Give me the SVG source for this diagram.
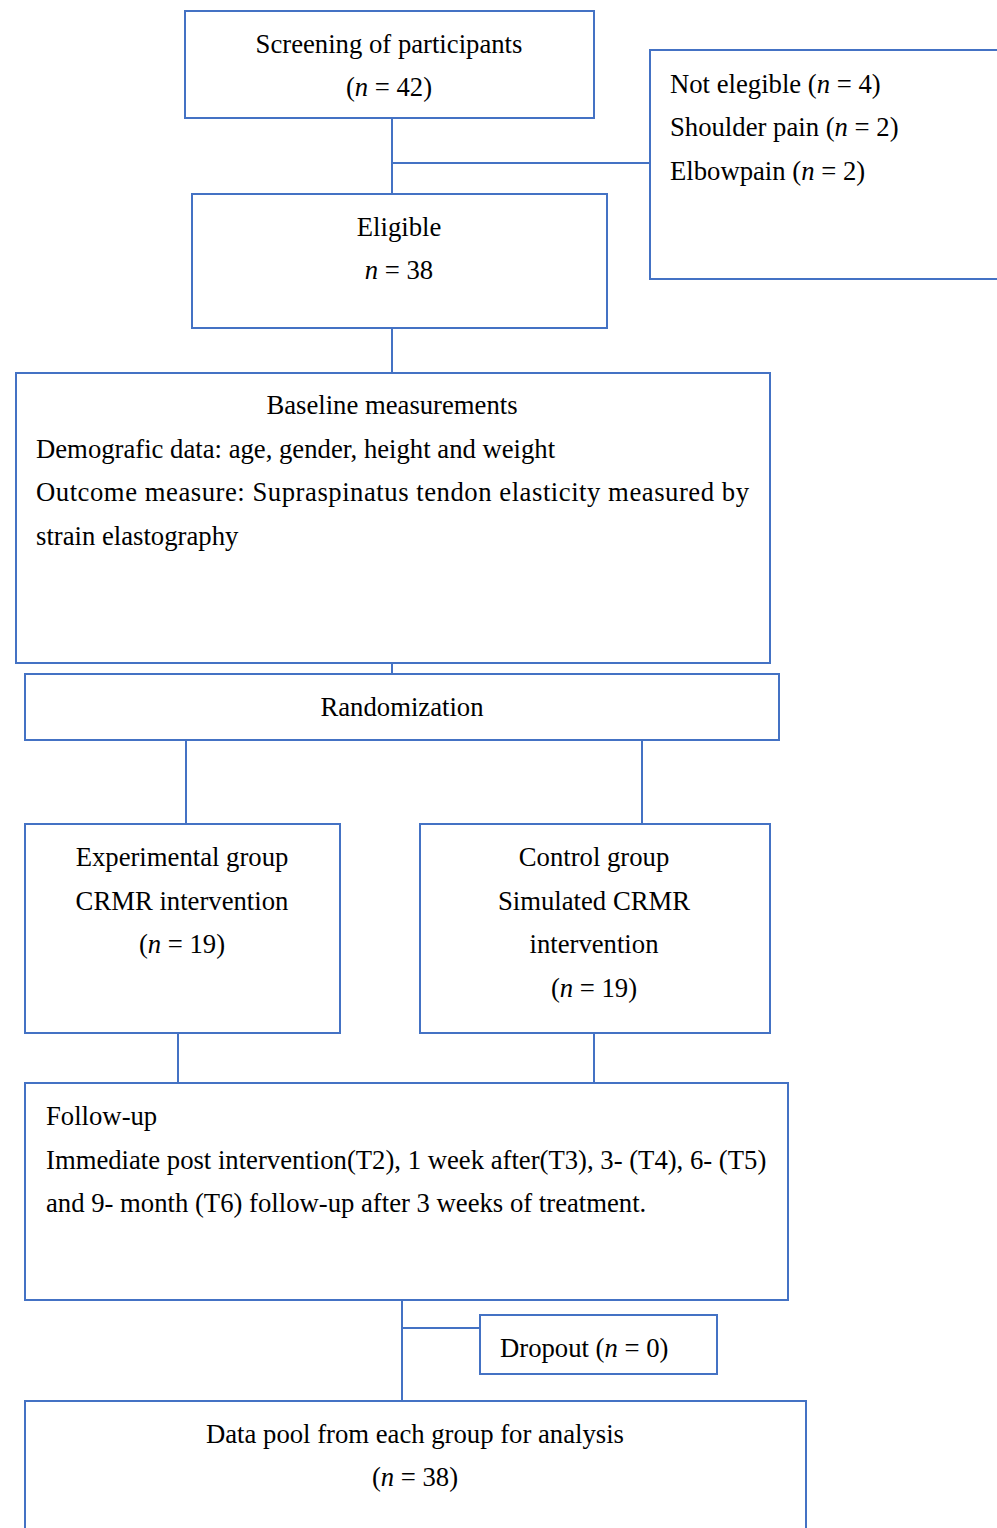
<svg xmlns="http://www.w3.org/2000/svg" width="997" height="1528" viewBox="0 0 997 1528">
<style>
.box{fill:#ffffff;stroke:#4472C4;stroke-width:2}
.ln{stroke:#4472C4;stroke-width:2;fill:none}
text{font-family:"Liberation Serif","Times New Roman",serif;font-size:26.7px;fill:#000}
.c{text-anchor:middle}
.i{font-style:italic}
</style>
<rect width="997" height="1528" fill="#ffffff"/>
<g id="connectors">
<path class="ln" d="M392 118V194M392 163H650"/>
<path class="ln" d="M392 328V373"/>
<path class="ln" d="M392 663V674"/>
<path class="ln" d="M186 740V824M642 740V824"/>
<path class="ln" d="M178 1033V1083M594 1033V1083"/>
<path class="ln" d="M402 1300V1401M402 1328H480"/>
</g>
<g id="screening">
<rect class="box" x="185" y="11" width="409" height="107"/>
<text class="c" x="389" y="53">Screening of participants</text>
<text class="c" x="389" y="96">(<tspan class="i">n</tspan> = 42)</text>
</g>
<g id="not-eligible">
<rect class="box" x="650" y="50" width="360" height="229"/>
<text x="670" y="93">Not elegible (<tspan class="i">n</tspan> = 4)</text>
<text x="670" y="136">Shoulder pain (<tspan class="i">n</tspan> = 2)</text>
<text x="670" y="180">Elbowpain (<tspan class="i">n</tspan> = 2)</text>
</g>
<g id="eligible">
<rect class="box" x="192" y="194" width="415" height="134"/>
<text class="c" x="399" y="236">Eligible</text>
<text class="c" x="399" y="279"><tspan class="i">n</tspan> = 38</text>
</g>
<g id="baseline">
<rect class="box" x="16" y="373" width="754" height="290"/>
<text class="c" x="392" y="414">Baseline measurements</text>
<text x="36" y="458">Demografic data: age, gender, height and weight</text>
<text x="36" y="501" textLength="713" lengthAdjust="spacing">Outcome measure: Supraspinatus tendon elasticity measured by</text>
<text x="36" y="545">strain elastography</text>
</g>
<g id="randomization">
<rect class="box" x="25" y="674" width="754" height="66"/>
<text class="c" x="402" y="716">Randomization</text>
</g>
<g id="experimental">
<rect class="box" x="25" y="824" width="315" height="209"/>
<text class="c" x="182" y="866">Experimental group</text>
<text class="c" x="182" y="910">CRMR intervention</text>
<text class="c" x="182" y="953">(<tspan class="i">n</tspan> = 19)</text>
</g>
<g id="control">
<rect class="box" x="420" y="824" width="350" height="209"/>
<text class="c" x="594" y="866">Control group</text>
<text class="c" x="594" y="910">Simulated CRMR</text>
<text class="c" x="594" y="953">intervention</text>
<text class="c" x="594" y="997">(<tspan class="i">n</tspan> = 19)</text>
</g>
<g id="follow-up">
<rect class="box" x="25" y="1083" width="763" height="217"/>
<text x="46" y="1125">Follow-up</text>
<text x="46" y="1169">Immediate post intervention(T2), 1 week after(T3), 3- (T4), 6- (T5)</text>
<text x="46" y="1212">and 9- month (T6) follow-up after 3 weeks of treatment.</text>
</g>
<g id="dropout">
<rect class="box" x="480" y="1315" width="237" height="59"/>
<text x="500" y="1357">Dropout (<tspan class="i">n</tspan> = 0)</text>
</g>
<g id="data-pool">
<rect class="box" x="25" y="1401" width="781" height="140"/>
<text class="c" x="415" y="1443">Data pool from each group for analysis</text>
<text class="c" x="415" y="1486">(<tspan class="i">n</tspan> = 38)</text>
</g>
</svg>
